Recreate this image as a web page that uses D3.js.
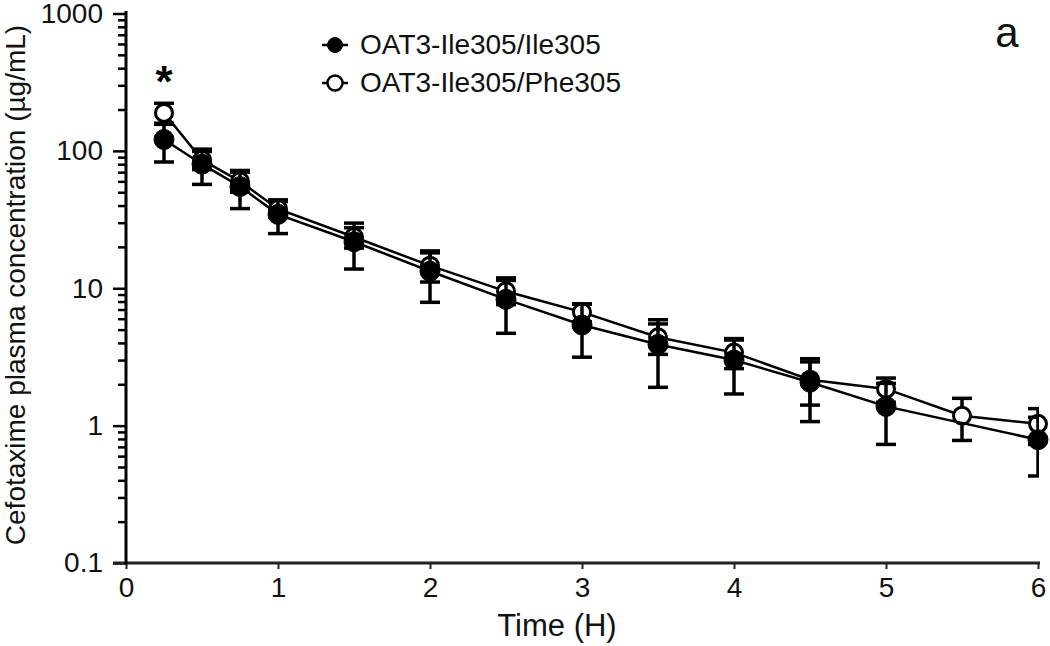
<!DOCTYPE html>
<html>
<head>
<meta charset="utf-8">
<script src="https://cdn.jsdelivr.net/npm/d3@7"></script>
<style>
  html, body { margin: 0; padding: 0; background: #fff; }
  svg { display: block; font-family: "Liberation Sans", Arial, sans-serif; }
</style>
</head>
<body>
<svg id="chart" width="1050" height="646"></svg>
<script>
// sampling times (h)
const timesIle = [0.25, 0.5, 0.75, 1, 1.5, 2, 2.5, 3, 3.5, 4, 4.5, 5, 6]
const meanIle = [121, 80, 55, 34.5, 21.8, 13.3, 8.3, 5.4, 3.9, 3.0, 2.07, 1.38, 0.79]
const sdIle = [38, 23, 17, 9.5, 8, 5.4, 3.6, 2.25, 2.0, 1.3, 1.0, 0.65, 0.36]

const timesPhe = [0.25, 0.5, 0.75, 1, 1.5, 2, 2.5, 3, 3.5, 4, 4.5, 5, 5.5, 6]
const meanPhe = [189, 86, 60, 37.8, 23.6, 14.6, 9.5, 6.7, 4.4, 3.4, 2.16, 1.85, 1.18, 1.03]
const sdPhe = [33, 13, 10, 5, 4, 3.5, 1.9, 1.0, 1.1, 0.8, 0.75, 0.37, 0.4, 0.3]

const xTicks = [0, 1, 2, 3, 4, 5, 6]
const yMajor = [0.1, 1, 10, 100, 1000]
const yLabels = ["0.1", "1", "10", "100", "1000"]
const legendNames = ["OAT3-Ile305/Ile305", "OAT3-Ile305/Phe305"]

const svg = d3.select("#chart")

const x = d3.scaleLinear().domain([0, 6]).range([126, 1038])
const y = d3.scaleLog().domain([0.1, 1000]).range([563, 13.5])

let yMinor = []
yMajor.slice(0, -1).forEach(d => {
  for (let k = 2; k <= 9; k++) yMinor.push(d * k)
})

// y minor ticks
svg.append("g")
  .attr("transform", "translate(126,0)")
  .call(d3.axisLeft(y).tickValues(yMinor).tickSize(8).tickFormat(""))
  .call(g => g.select(".domain").remove())
  .call(g => g.selectAll("line").attr("stroke", "#000").attr("stroke-width", 2.5))

// y major ticks + labels
svg.append("g")
  .attr("transform", "translate(126,0)")
  .call(d3.axisLeft(y).tickValues(yMajor).tickSize(13).tickPadding(10).tickFormat((d, i) => yLabels[i]))
  .call(g => g.select(".domain").remove())
  .call(g => g.selectAll("line").attr("stroke", "#000").attr("stroke-width", 2.5))
  .call(g => g.selectAll("text").attr("font-size", 28).attr("fill", "#111").attr("font-family", "Liberation Sans, Arial, sans-serif"))

// x axis
svg.append("g")
  .attr("transform", "translate(0,563)")
  .call(d3.axisBottom(x).tickValues(xTicks).tickSize(6).tickPadding(8).tickFormat(d3.format("d")))
  .call(g => g.select(".domain").remove())
  .call(g => g.selectAll("line").attr("stroke", "#222").attr("stroke-width", 2))
  .call(g => g.selectAll("text").attr("font-size", 28).attr("fill", "#111").attr("font-family", "Liberation Sans, Arial, sans-serif"))

svg.append("line")
  .attr("x1", 113).attr("x2", x(6) + 2)
  .attr("y1", 563).attr("y2", 563)
  .attr("stroke", "#222").attr("stroke-width", 3)
svg.append("line")
  .attr("x1", 126).attr("x2", 126)
  .attr("y1", 564.5).attr("y2", 11)
  .attr("stroke", "#000").attr("stroke-width", 3)

// axis titles
svg.append("text")
  .attr("x", 557).attr("y", 636)
  .attr("text-anchor", "middle")
  .attr("font-size", 31).attr("fill", "#111")
  .text("Time (H)")

svg.append("text")
  .attr("transform", "translate(25,285) rotate(-90)")
  .attr("text-anchor", "middle")
  .attr("font-size", 28).attr("fill", "#111")
  .text("Cefotaxime plasma concentration (\u00b5g/mL)")

// clip for error bars at right edge
svg.append("clipPath").attr("id", "clipErr")
  .append("rect").attr("x", 0).attr("y", 0).attr("width", 1039).attr("height", 646)

const capW = 10

function drawSeries(times, means, sds, open) {
  const pts = times.map((t, i) => ({ t: t, m: means[i], s: sds[i] }))

  svg.append("path")
    .datum(pts)
    .attr("fill", "none")
    .attr("stroke", "#000")
    .attr("stroke-width", 2.5)
    .attr("d", d3.line().x(d => x(d.t)).y(d => y(d.m)))

  const eb = svg.append("g")
    .attr("clip-path", "url(#clipErr)")
    .attr("stroke", "#000")
    .attr("stroke-width", 3.5)
    .selectAll("g")
    .data(pts)
    .join("g")

  eb.append("line")
    .attr("x1", d => x(d.t)).attr("x2", d => x(d.t))
    .attr("y1", d => y(d.m + d.s)).attr("y2", d => y(Math.max(d.m - d.s, 0.11)))
  eb.append("line")
    .attr("x1", d => x(d.t) - capW).attr("x2", d => x(d.t) + capW)
    .attr("y1", d => y(d.m + d.s)).attr("y2", d => y(d.m + d.s))
  eb.append("line")
    .attr("x1", d => x(d.t) - capW).attr("x2", d => x(d.t) + capW)
    .attr("y1", d => y(Math.max(d.m - d.s, 0.11))).attr("y2", d => y(Math.max(d.m - d.s, 0.11)))

  svg.append("g")
    .selectAll("circle")
    .data(pts)
    .join("circle")
    .attr("cx", d => x(d.t))
    .attr("cy", d => y(d.m))
    .attr("r", open ? 8.5 : 10)
    .attr("fill", open ? "#fff" : "#000")
    .attr("stroke", "#000")
    .attr("stroke-width", open ? 3 : 1)
}

drawSeries(timesPhe, meanPhe, sdPhe, true)
drawSeries(timesIle, meanIle, sdIle, false)

// significance mark
svg.append("text")
  .attr("x", x(0.25)).attr("y", 97)
  .attr("text-anchor", "middle")
  .attr("font-size", 44).attr("font-weight", "bold").attr("fill", "#000")
  .text("*")

// legend
const legend = svg.append("g")
legendNames.forEach((name, i) => {
  const ly = 45 + i * 38
  legend.append("line")
    .attr("x1", 322).attr("x2", 348)
    .attr("y1", ly).attr("y2", ly)
    .attr("stroke", "#000").attr("stroke-width", 2.5)
  legend.append("circle")
    .attr("cx", 335).attr("cy", ly)
    .attr("r", 7.5)
    .attr("fill", i === 0 ? "#000" : "#fff")
    .attr("stroke", "#000").attr("stroke-width", i === 0 ? 1 : 2.5)
  legend.append("text")
    .attr("x", 360).attr("y", ly + 9)
    .attr("font-size", 28).attr("fill", "#111")
    .text(name)
})

svg.append("text")
  .attr("x", 1007).attr("y", 47)
  .attr("text-anchor", "middle")
  .attr("font-size", 42).attr("fill", "#111")
  .text("a")
</script>
</body>
</html>
